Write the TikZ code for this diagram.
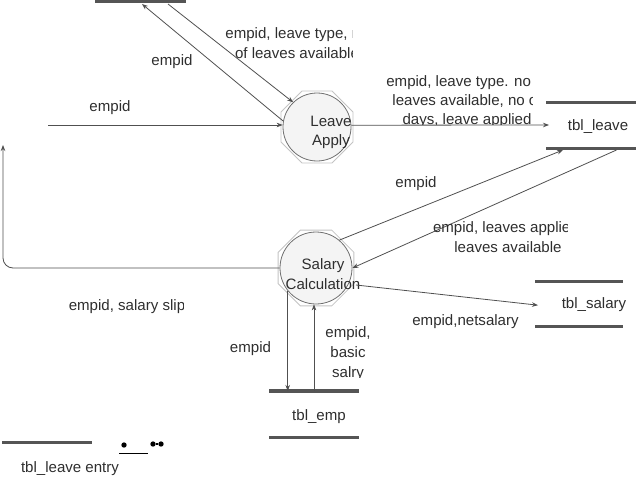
\documentclass[tikz,border=0pt]{standalone}
\usepackage{fontspec}
\setmainfont{Liberation Sans}
\usetikzlibrary{arrows.meta,calc}
\definecolor{lnc}{HTML}{505050}
\definecolor{stc}{HTML}{555555}
\definecolor{txc}{HTML}{2E2E2E}
\definecolor{circfill}{HTML}{F4F4F4}
\definecolor{circdraw}{HTML}{707070}
\definecolor{octdraw}{HTML}{C4C4C4}
\newcommand{\octabox}[2]{%
  \draw[octa] ($(#1)+(22.5:#2)$) \foreach \a in {67.5,112.5,...,337.5} {-- ($(#1)+(\a:#2)$)} -- cycle;}
\begin{document}
\begin{tikzpicture}[x=0.75pt,y=-0.75pt,
  flow/.style={draw=lnc, line width=0.6pt, -{Stealth[length=4.5pt,width=3.4pt]}},
  proc/.style={circle, draw=circdraw, fill=circfill, line width=0.6pt, inner sep=0pt},
  octa/.style={draw=octdraw, fill=white, line width=0.6pt},
  storeline/.style={draw=stc, line width=2.4pt},
  storebox/.style={rectangle, inner sep=0pt, outer sep=0pt},
  txt/.style={text=txc, inner sep=0pt, align=center, font=\fontsize{11.3}{15}\selectfont},
  dotn/.style={circle, fill=black, inner sep=0pt, minimum size=4pt},
]
\useasboundingbox (0,0) rectangle (638,478);

% processes
\coordinate (lac) at (317,127);
\octabox{lac}{39}
\node[proc, minimum size=51pt] (la) at (lac) {};
\node[txt] (lat) at (331,132.5) {Leave\\[-0.6pt]Apply};

\coordinate (scc) at (316,268);
\octabox{scc}{41}
\node[proc, minimum size=54pt] (sc) at (scc) {};
\node[txt] (sct) at (323,274.5) {Salary\\Calculation};

% stores
\node[storebox, minimum width=68.25pt, minimum height=0pt] (tb) at (140.5,1.5) {};
\draw[storeline] (tb.west) -- (tb.east);

\node[storebox, minimum width=67.5pt, minimum height=34.5pt] (tl) at (591,125.5) {};
\draw[storeline] (tl.north west) -- (tl.north east);
\draw[storeline] (tl.south west) -- (tl.south east);
\node[txt] (tlt) at (598,127) {tbl\_leave};

\node[storebox, minimum width=66pt, minimum height=33.75pt] (ts) at (579,304.2) {};
\draw[storeline] (ts.north west) -- (ts.north east);
\draw[storeline] (ts.south west) -- (ts.south east);
\node[txt] (tst) at (594,305) {tbl\_salary};

\node[storebox, minimum width=67.3pt, minimum height=35pt] (te) at (314,414.3) {};
\draw[storeline] (te.north west) -- (te.north east);
\draw[storeline] (te.south west) -- (te.south east);
\node[txt] (tet) at (319,416.7) {tbl\_emp};

\node[storebox, minimum width=67.5pt, minimum height=0pt] (tle) at (47,442.3) {};
\draw[storeline] (tle.west) -- (tle.east);
\node[txt] (tlet) at (70,469) {tbl\_leave entry};

% flows
\coordinate (src) at (48,125);
\coordinate (lp) at (3,145);
\draw[flow] (la.170) -- ($(tb.west)+(47,2.5)$);
\draw[flow] ($(tb.west)+(73,2.5)$) -- (la.134);
\draw[flow] (src) -- (src -| la.west);
\draw[flow] (la.3) -- ($(tl.west)+(3,-0.5)$);
\draw[flow] (sc.50) -- ($(tl.south west)+(17,1.5)$);
\draw[flow] ($(tl.south west)+(70.5,1.5)$) -- (sc.east);
\draw[flow] ($(sc.center)+(40,17)$) -- ($(ts.west)+(3,1)$);
\draw[flow] (sc.219) -- (sc.219 |- te.north);
\draw[flow] (te.north) -- (te.north |- sc.south);
\draw[flow, rounded corners=7.5pt] (sc.west) -| (lp);

% labels
\node[txt] (e1) at (172,62) {empid};
\node[txt] (e2) at (110,108) {empid};
\node[txt] (e3) at (416,184) {empid};
\node[txt] (e4) at (250.5,349) {empid};
\node[txt] (e5) at (465.5,321.7) {empid,netsalary};

\begin{scope}
\clip (200,18) rectangle (352,70);
\node[txt] (l1) at (297,43.3) {empid, leave type, no\\of leaves available};
\end{scope}
\begin{scope}
\clip (370,65) rectangle (532,124.5);
\node[txt, font=\fontsize{11.3}{14.25}\selectfont] (l2) at (467,101.7) {empid, leave type. no of\\leaves available, no of\\days, leave applied};
\end{scope}
\begin{scope}
\clip (420,212) rectangle (567,262);
\node[txt, font=\fontsize{11.3}{15.5}\selectfont] (l3) at (508,237) {empid, leaves applied,\\leaves available};
\end{scope}
\begin{scope}
\clip (320,318) rectangle (380,377.5);
\node[txt] (l4) at (348,353.5) {empid,\\basic\\salry};
\end{scope}
\begin{scope}
\clip (50,292) rectangle (183,322);
\node[txt] (l5) at (127,306.7) {empid, salary slip};
\end{scope}

% small marks
\node[dotn] (d1) at (124,445) {};
\node[dotn] (d2) at (153,444) {};
\node[dotn] (d3) at (161,444) {};
\draw[line width=1pt] (d2) -- (d3);
\coordinate (u1) at (119,453.5);
\coordinate (u2) at (148,453.5);
\draw[line width=1.3pt] (u1) -- (u2);
\end{tikzpicture}
\end{document}
